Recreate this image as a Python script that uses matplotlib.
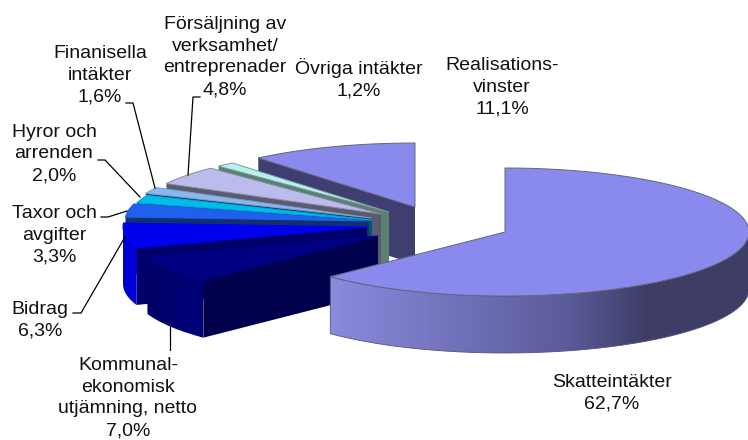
#%% libs
import numpy as np
import matplotlib
matplotlib.use('Agg')
import matplotlib.pyplot as plt
from matplotlib.colors import LinearSegmentedColormap
from matplotlib.patches import Polygon

plt.rcParams['font.family'] = ['Liberation Sans', 'DejaVu Sans']

#%% data
names = ['Skatteintäkter', 'Kommunal-\nekonomisk\nutjämning, netto', 'Bidrag',
         'Taxor och\navgifter', 'Hyror och\narrenden', 'Finanisella\nintäkter',
         'Försäljning av\nverksamhet/\nentreprenader', 'Övriga intäkter',
         'Realisations-\nvinster']
values = [62.7, 7.0, 6.3, 3.3, 2.0, 1.6, 4.8, 1.2, 11.1]
value_labels = ['62,7%', '7,0%', '6,3%', '3,3%', '2,0%', '1,6%', '4,8%', '1,2%', '11,1%']

#%% look of the slices (apex of each exploded slice in pixels, colours)
centers = [(505, 232), (378, 236), (367, 227), (369, 221), (372, 220),
           (371, 218), (381, 214), (389, 212), (415, 207)]
top_colors = ['#8a8aee', '#000080', '#0000ee', '#2060ee', '#00bcec',
              '#8ab8ec', '#bcbcec', '#b8f0ee', '#8a8aee']
edge_colors = ['#66667a', '#000080', '#0000ee', '#2060ee', '#00a8d8',
               '#7a9cc8', '#8a8aa8', '#7a9a9a', '#66667a']
face_colors = ['#3d3d66', '#00004c', '#00006c', '#12306e', '#00586e',
               '#1c3a66', '#5a5a70', '#5a8070', '#3e3e70']
side_colors = [('#8a8ade', '#3d3d66'), ('#00007a', '#000068'), ('#0000e4', '#0000c8'),
               ('#2060ee', '#2060ee'), ('#00bcec', '#00bcec'), ('#8ab8ec', '#8ab8ec'),
               ('#bcbcec', '#bcbcec'), ('#b8f0ee', '#b8f0ee'), ('#8a8aee', '#8a8aee')]
rx, ry, depth = 244, 64, 57

label_pos = [(612, 393), (128, 398), (40, 320), (54, 235), (54, 154),
             (100, 75), (225, 57), (359, 79), (502, 87)]
leaders = [None,
           [(170, 327), (170, 350)],
           [(73, 313), (81, 313), (125, 237)],
           [(101, 217), (108, 217), (127, 211)],
           [(98, 160), (105, 160), (140, 197)],
           [(126, 103), (133, 103), (155, 188)],
           [(200, 97), (193, 97), (188, 175)],
           None, None]


def ring(cx, cy, a0, a1, n=120):
    ang = np.radians(np.linspace(a0, a1, n))
    return np.column_stack([cx + rx * np.sin(ang), cy - ry * np.cos(ang)])


#%% plot
fig = plt.figure(figsize=(7.48, 4.40), dpi=100)
ax = fig.add_axes([0, 0, 1, 1])

# slice angles, clockwise from the top
ends = np.cumsum(values) * 3.6
starts = np.concatenate([[0], ends[:-1]])

# back to front
z = 2
for i in [8, 7, 6, 5, 4, 3, 2, 1, 0]:
    cx, cy = centers[i]
    a0, a1 = starts[i], ends[i]

    # cut face at the start angle
    p0 = ring(cx, cy, a0, a0, 1)[0]
    ax.add_patch(Polygon([p0, (cx, cy), (cx, cy + depth), (p0[0], p0[1] + depth)],
                         closed=True, facecolor=face_colors[i], edgecolor='none', zorder=z))
    z += 1

    # outer wall, only the part that faces the viewer
    s0, s1 = max(a0, 90), min(a1, 270)
    if s0 < s1:
        arc = ring(cx, cy, s0, s1)
        wall = np.vstack([arc, (arc + [0, depth])[::-1]])
        clip = Polygon(wall, closed=True, facecolor='none', edgecolor='#55557a' if i == 0 else 'none',
                       linewidth=0.6, zorder=z + 1)
        ax.add_patch(clip)
        if i == 0:
            stops = [(0.0, '#8a8ade'), (0.56, '#5c5c9a'), (0.76, '#3d3d66'), (1.0, '#3d3d66')]
            cmap = LinearSegmentedColormap.from_list('wall', stops)
        else:
            cmap = LinearSegmentedColormap.from_list('wall', side_colors[i])
        grad = np.linspace(0, 1, 256).reshape(1, -1)
        if i != 0:
            grad = grad[:, ::-1]
        img = ax.imshow(grad, cmap=cmap, aspect='auto', zorder=z,
                        extent=(wall[:, 0].min(), wall[:, 0].max(), wall[:, 1].max(), wall[:, 1].min()))
        img.set_clip_path(clip)
        z += 2

    # top surface
    top = np.vstack([[(cx, cy)], ring(cx, cy, a0, a1)])
    ax.add_patch(Polygon(top, closed=True, facecolor=top_colors[i], edgecolor=edge_colors[i],
                         linewidth=0.7, joinstyle='round', zorder=z))
    z += 1

# leader lines and labels
for i, name in enumerate(names):
    if leaders[i] is not None:
        xs, ys = zip(*leaders[i])
        ax.plot(xs, ys, color='black', linewidth=0.9, zorder=z)
    ax.text(label_pos[i][0], label_pos[i][1], name + '\n' + value_labels[i], ha='center', va='center',
            fontsize=14, color='#111111', linespacing=1.38, zorder=z + 1)

ax.set_xlim(0, 748)
ax.set_ylim(440, 0)
ax.axis('off')
fig.savefig('out.png', dpi=100)
